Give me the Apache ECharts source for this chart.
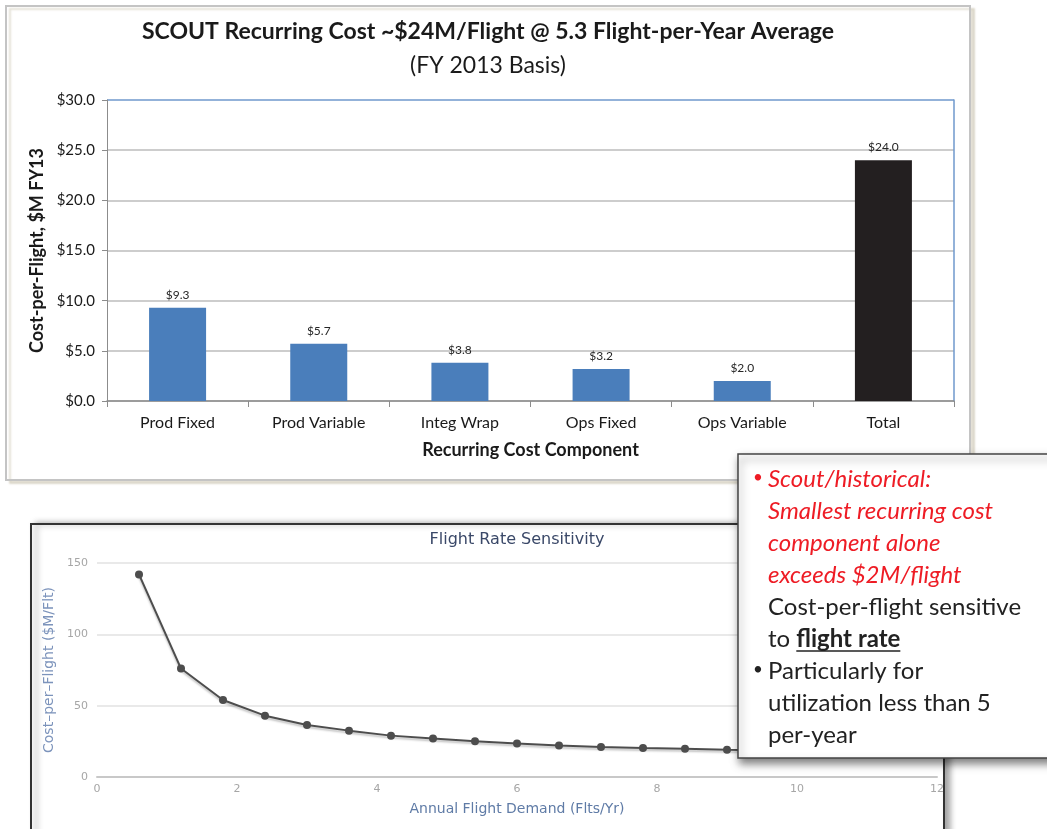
<!DOCTYPE html>
<html>
<head>
<meta charset="utf-8">
<script src="https://cdn.jsdelivr.net/npm/echarts@6/dist/echarts.min.js"></script>
<style>
html,body{margin:0;padding:0;background:#fff;}
#main{width:1047px;height:829px;}
</style>
</head>
<body>
<div id="main"></div>
<script>
// ---- data ----
const costCategories = ['Prod Fixed', 'Prod Variable', 'Integ Wrap', 'Ops Fixed', 'Ops Variable', 'Total'];
const costValues = [9.3, 5.7, 3.8, 3.2, 2.0, 24.0];
const flightRates = [0.6, 1.2, 1.8, 2.4, 3.0, 3.6, 4.2, 4.8, 5.4, 6.0, 6.6, 7.2, 7.8, 8.4, 9.0, 9.6];
const costPerFlight = [142, 76, 54, 43, 36.5, 32.5, 29, 27, 25, 23.5, 22, 21, 20.3, 19.8, 19.1, 18.6];

const boxLines = [
  {text: 'Scout/historical:', color: '#ee1c25', italic: true, bullet: true},
  {text: 'Smallest recurring cost', color: '#ee1c25', italic: true},
  {text: 'component alone', color: '#ee1c25', italic: true},
  {text: 'exceeds $2M/flight', color: '#ee1c25', italic: true},
  {text: 'Cost-per-flight sensitive', color: '#222'},
  {text: 'to ', bold: 'flight rate', color: '#222'},
  {text: 'Particularly for', color: '#222', bullet: true},
  {text: 'utilization less than 5', color: '#222'},
  {text: 'per-year', color: '#222'}
];

const FONT = 'Lato, "Open Sans", sans-serif';
const BFONT = '"DejaVu Sans", sans-serif';

const chart = echarts.init(document.getElementById('main'));

// text box graphics
const boxX = 738, boxY = 454, lineH = 32, textX = 768, firstLine = 479, boxFont = 24;
const ctx = document.createElement('canvas').getContext('2d');
const graphics = [
  {type: 'rect', z: -2, shape: {x: 6, y: 6, width: 964, height: 474},
   style: {fill: '#fff', stroke: '#c4c4c4', lineWidth: 2, shadowColor: 'rgba(150,140,100,0.25)', shadowOffsetX: 4, shadowOffsetY: 3, shadowBlur: 2}},
  {type: 'rect', z: -2, shape: {x: 31, y: 524, width: 913, height: 400},
   style: {fill: '#fff', stroke: '#333', lineWidth: 2, shadowColor: 'rgba(0,0,0,0.35)', shadowOffsetX: 5, shadowOffsetY: 0, shadowBlur: 6}},
  {type: 'rect', z: 100, shape: {x: boxX, y: boxY, width: 330, height: 304},
   style: {fill: '#fff', stroke: '#444', lineWidth: 1.5, shadowColor: 'rgba(0,0,0,0.5)', shadowOffsetX: 2, shadowOffsetY: 5, shadowBlur: 8}}
];
boxLines.forEach(function (ln, i) {
  const y = firstLine + i * lineH;
  const style = ln.italic ? 'italic' : 'normal';
  if (ln.bullet) {
    graphics.push({type: 'text', z: 101, style: {x: 753, y: y - 1, text: '•', fill: ln.color, font: 'normal 400 17px ' + FONT, verticalAlign: 'middle'}});
  }
  graphics.push({type: 'text', z: 101, style: {x: textX, y: y, text: ln.text, fill: ln.color, font: style + ' 400 ' + boxFont + 'px ' + FONT, verticalAlign: 'middle'}});
  if (ln.bold) {
    ctx.font = 'normal 400 ' + boxFont + 'px ' + FONT;
    const w0 = ctx.measureText(ln.text).width;
    ctx.font = 'normal 700 ' + boxFont + 'px ' + FONT;
    const w1 = ctx.measureText(ln.bold).width;
    graphics.push({type: 'text', z: 101, style: {x: textX + w0, y: y, text: ln.bold, fill: ln.color, font: 'normal 700 ' + boxFont + 'px ' + FONT, verticalAlign: 'middle'}});
    graphics.push({type: 'line', z: 101, shape: {x1: textX + w0, y1: y + 12, x2: textX + w0 + w1, y2: y + 12}, style: {stroke: ln.color, lineWidth: 1.5}});
  }
});

const option = {
  backgroundColor: '#fff',
  animation: false,
  title: [
    {text: 'SCOUT Recurring Cost ~$24M/Flight @ 5.3 Flight-per-Year Average', left: 488, top: 20, padding: 0, textAlign: 'center',
     textStyle: {fontFamily: FONT, fontSize: 23, fontWeight: 'bold', color: '#1a1a1a'}},
    {text: '(FY 2013 Basis)', left: 488, top: 54, padding: 0, textAlign: 'center',
     textStyle: {fontFamily: FONT, fontSize: 23, fontWeight: 'normal', color: '#1a1a1a'}},
    {text: 'Flight Rate Sensitivity', left: 517, top: 532, padding: 0, textAlign: 'center',
     textStyle: {fontFamily: BFONT, fontSize: 16, fontWeight: 'normal', color: '#3a4868'}}
  ],
  grid: [
    {left: 107, top: 100, width: 847, height: 301},
    {left: 97, top: 563, width: 840, height: 214}
  ],
  xAxis: [
    {type: 'category', gridIndex: 0, data: costCategories,
     axisLine: {lineStyle: {color: '#8c8c8c', width: 1.5}},
     axisTick: {show: true, length: 6, lineStyle: {color: '#8c8c8c'}},
     axisLabel: {fontFamily: FONT, fontSize: 16, color: '#1a1a1a', margin: 14},
     name: 'Recurring Cost Component', nameLocation: 'middle', nameGap: 40,
     nameTextStyle: {fontFamily: FONT, fontSize: 18, fontWeight: 'bold', color: '#1a1a1a'}},
    {type: 'value', gridIndex: 1, min: 0, max: 12, interval: 2,
     axisLine: {show: true, lineStyle: {color: '#c8c8c8', width: 2}},
     axisTick: {show: false}, splitLine: {show: false},
     axisLabel: {fontFamily: BFONT, fontSize: 11, color: '#a6a6a6', margin: 7},
     name: 'Annual Flight Demand (Flts/Yr)', nameLocation: 'middle', nameGap: 25,
     nameTextStyle: {fontFamily: BFONT, fontSize: 14, color: '#5f7ba6'}}
  ],
  yAxis: [
    {type: 'value', gridIndex: 0, min: 0, max: 30, interval: 5,
     axisLine: {show: true, lineStyle: {color: '#8c8c8c'}},
     axisTick: {show: true, length: 5, lineStyle: {color: '#8c8c8c'}},
     splitLine: {show: true, lineStyle: {color: ['#bdbdbd', '#bdbdbd', '#bdbdbd', '#bdbdbd', '#bdbdbd', '#bdbdbd', '#6f98cc'], width: 1.5}},
     axisLabel: {fontFamily: FONT, fontSize: 15, color: '#1a1a1a', margin: 12, formatter: function (v) { return '$' + v.toFixed(1); }},
     name: 'Cost-per-Flight, $M FY13', nameLocation: 'middle', nameGap: 61,
     nameTextStyle: {fontFamily: FONT, fontSize: 18, fontWeight: 'bold', color: '#1a1a1a'}},
    {type: 'value', gridIndex: 0, position: 'right', min: 0, max: 30, interval: 5,
     axisLine: {show: true, lineStyle: {color: '#6f98cc', width: 1.5}},
     axisTick: {show: false}, axisLabel: {show: false}, splitLine: {show: false}},
    {type: 'value', gridIndex: 1, min: 0, max: 150, interval: 50,
     axisLine: {show: false}, axisTick: {show: false},
     splitLine: {show: true, lineStyle: {color: '#e2e2e2', width: 1.5}},
     axisLabel: {fontFamily: BFONT, fontSize: 11, color: '#a6a6a6', margin: 9},
     name: 'Cost\u2013per\u2013Flight ($M/Flt)', nameLocation: 'middle', nameGap: 40,
     nameTextStyle: {fontFamily: BFONT, fontSize: 14, color: '#7c93bb'}}
  ],
  series: [
    {type: 'bar', xAxisIndex: 0, yAxisIndex: 0, barWidth: 57,
     data: costValues.map(function (v, i) {
       return {value: v, itemStyle: {color: i === costValues.length - 1 ? '#231f20' : '#4a7ebb'}};
     }),
     label: {show: true, position: 'top', distance: 7, fontFamily: FONT, fontSize: 12, color: '#262626',
       formatter: function (p) { return '$' + p.value.toFixed(1); }}},
    {type: 'line', xAxisIndex: 1, yAxisIndex: 2,
     data: flightRates.map(function (x, i) { return [x, costPerFlight[i]]; }),
     symbol: 'circle', symbolSize: 8, showSymbol: true,
     lineStyle: {color: '#4d4d4d', width: 2, shadowColor: 'rgba(0,0,0,0.25)', shadowBlur: 2, shadowOffsetY: 2},
     itemStyle: {color: '#4d4d4d'}}
  ],
  graphic: {elements: graphics}
};
chart.setOption(option);
</script>
</body>
</html>
